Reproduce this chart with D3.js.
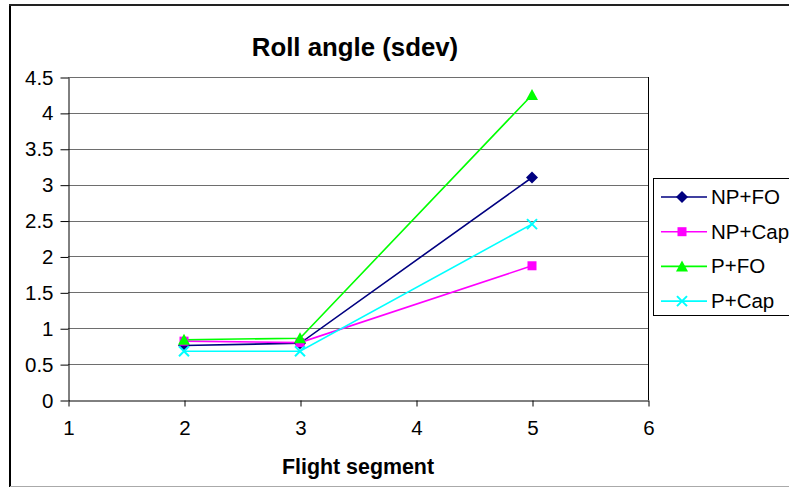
<!DOCTYPE html>
<html>
<head>
<meta charset="utf-8">
<script src="https://cdn.jsdelivr.net/npm/d3@7"></script>
<style>
  html, body { margin: 0; padding: 0; background: #fff; }
  svg { display: block; }
  text { font-family: "Liberation Sans", Arial, sans-serif; fill: #000; }
</style>
</head>
<body>
<svg id="chart" width="789" height="487"></svg>
<script>
// Flight segments on the x axis and standard deviation of roll angle per condition
const segments = [2, 3, 5];
const npFO  = [0.76, 0.79, 3.10];
const npCap = [0.82, 0.80, 1.87];
const pFO   = [0.84, 0.86, 4.25];
const pCap  = [0.68, 0.68, 2.45];

const seriesNames  = ["NP+FO", "NP+Cap", "P+FO", "P+Cap"];
const seriesColors = ["#000080", "#FF00FF", "#00FF00", "#00FFFF"];
const seriesShapes = ["diamond", "square", "triangle", "cross"];
const xTicks = [1, 2, 3, 4, 5, 6];
const yTicks = [0, 0.5, 1, 1.5, 2, 2.5, 3, 3.5, 4, 4.5];

const series = [npFO, npCap, pFO, pCap].map((vals, i) => ({
  name: seriesNames[i], color: seriesColors[i], shape: seriesShapes[i],
  points: segments.map((s, j) => ({ x: s, y: vals[j] }))
}));

const svg = d3.select("#chart");
const plot = { left: 68, right: 648, top: 77, bottom: 400 };

const x = d3.scaleLinear().domain([1, 6]).range([plot.left, plot.right]);
const y = d3.scaleLinear().domain([0, 4.5]).range([plot.bottom, plot.top]);

// Outer chart frame
svg.append("line").attr("x1", 10).attr("x2", 10).attr("y1", 4).attr("y2", 487)
  .attr("stroke", "#000").attr("stroke-width", 2);
svg.append("line").attr("x1", 9).attr("x2", 789).attr("y1", 5).attr("y2", 5)
  .attr("stroke", "#222").attr("stroke-width", 2);
svg.append("line").attr("x1", 10).attr("x2", 789).attr("y1", 486.5).attr("y2", 486.5)
  .attr("stroke", "#aaa").attr("stroke-width", 1);

// Horizontal gridlines
svg.append("g")
  .selectAll("line")
  .data(yTicks.filter(d => d > 0))
  .join("line")
  .attr("x1", plot.left).attr("x2", plot.right)
  .attr("y1", d => Math.round(y(d)) + 0.5).attr("y2", d => Math.round(y(d)) + 0.5)
  .attr("stroke", "#6e6e6e").attr("stroke-width", 1);

// Right edge of the plot area
svg.append("line")
  .attr("x1", plot.right + 0.5).attr("x2", plot.right + 0.5)
  .attr("y1", plot.top).attr("y2", plot.bottom)
  .attr("stroke", "#000").attr("stroke-width", 1);

// Y axis
const yAxis = svg.append("g")
  .attr("transform", `translate(${plot.left + 0.5},0.5)`)
  .call(d3.axisLeft(y).tickValues(yTicks).tickSize(8).tickPadding(7)
    .tickFormat(d3.format("")).tickSizeOuter(0));
yAxis.select(".domain").attr("stroke", "#000");
yAxis.selectAll(".tick line").attr("stroke", "#000");
yAxis.selectAll("text").attr("font-size", 20.5).attr("font-family", "Liberation Sans, Arial, sans-serif");

// X axis
const xAxis = svg.append("g")
  .attr("transform", `translate(0.5,${plot.bottom + 0.5})`)
  .call(d3.axisBottom(x).tickValues(xTicks).tickSize(6).tickPadding(14)
    .tickFormat(d3.format("d")).tickSizeOuter(0));
xAxis.select(".domain").attr("stroke", "#000");
xAxis.selectAll(".tick line").attr("stroke", "#000");
xAxis.selectAll("text").attr("font-size", 20.5).attr("font-family", "Liberation Sans, Arial, sans-serif");

// Titles
svg.append("text").attr("x", 355).attr("y", 56).attr("text-anchor", "middle")
  .attr("font-size", 25.8).attr("font-weight", "bold").text("Roll angle (sdev)");
svg.append("text").attr("x", 358).attr("y", 474).attr("text-anchor", "middle")
  .attr("font-size", 21.4).attr("font-weight", "bold").text("Flight segment");

// Marker shapes
function marker(sel, shape, color) {
  if (shape === "diamond") {
    sel.append("path").attr("d", "M0,-6L6,0L0,6L-6,0Z").attr("fill", color);
  } else if (shape === "square") {
    sel.append("rect").attr("x", -4.5).attr("y", -4.5).attr("width", 9).attr("height", 9).attr("fill", color);
  } else if (shape === "triangle") {
    sel.append("path").attr("d", "M0,-6L6,5L-6,5Z").attr("fill", color);
  } else {
    sel.append("path").attr("d", "M-5,-5L5,5M-5,5L5,-5").attr("stroke", color).attr("stroke-width", 2);
  }
}

// Lines and markers
const line = d3.line().x(d => x(d.x)).y(d => y(d.y));
series.forEach(s => {
  svg.append("path").datum(s.points).attr("d", line)
    .attr("fill", "none").attr("stroke", s.color).attr("stroke-width", 1.6);
});
series.forEach(s => {
  s.points.forEach(p => {
    const g = svg.append("g").attr("transform", `translate(${x(p.x)},${y(p.y)})`);
    marker(g, s.shape, s.color);
  });
});

// Legend
const legend = svg.append("g");
legend.append("rect").attr("x", 653.5).attr("y", 178.5).attr("width", 150).attr("height", 137)
  .attr("fill", "#fff").attr("stroke", "#000").attr("stroke-width", 1);
series.forEach((s, i) => {
  const ly = 197 + i * 34.7;
  legend.append("line").attr("x1", 661).attr("x2", 707).attr("y1", ly).attr("y2", ly)
    .attr("stroke", s.color).attr("stroke-width", 1.6);
  marker(legend.append("g").attr("transform", `translate(682,${ly})`), s.shape, s.color);
  legend.append("text").attr("x", 711).attr("y", ly + 7).attr("font-size", 20.5).text(s.name);
});
</script>
</body>
</html>
